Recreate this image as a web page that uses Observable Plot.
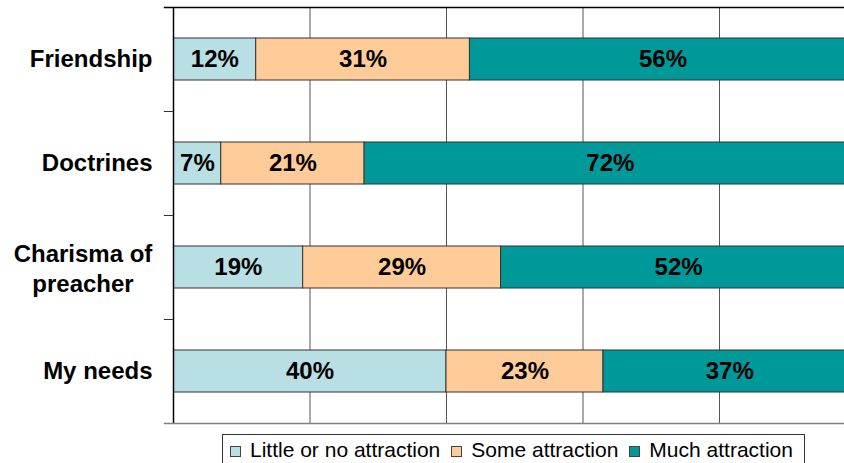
<!DOCTYPE html>
<html>
<head>
<meta charset="utf-8">
<script src="https://cdn.jsdelivr.net/npm/d3@7"></script>
<script src="https://cdn.jsdelivr.net/npm/@observablehq/plot@0.6"></script>
<style>
  html, body { margin: 0; padding: 0; background: #fff; overflow: hidden; width: 844px; height: 463px; }
  #chart svg { display: block; overflow: hidden; }
  #legend {
    position: absolute; left: 222px; top: 434px; height: 40px; width: 583px;
    border: 1px solid #333; box-sizing: border-box; white-space: nowrap;
    display: flex; flex-wrap: nowrap; align-items: flex-start; padding: 3px 0 0 7px;
    font-family: "Liberation Sans", Arial, sans-serif; font-size: 21px; color: #000;
  }
  .item { display: flex; flex-shrink: 0; align-items: center; margin-right: 11px; line-height: 24px; white-space: nowrap; }
  .sw { flex-shrink: 0; width: 9px; height: 9px; border: 1px solid #444; margin-right: 9px; margin-top: 2px; }
</style>
</head>
<body>
<div id="chart"></div>
<div id="legend"></div>
<script>
const categories = ["Friendship", "Doctrines", "Charisma of preacher", "My needs"];
const series = ["Little or no attraction", "Some attraction", "Much attraction"];
const little = [12, 7, 19, 40];
const some = [31, 21, 29, 23];
const much = [56, 72, 52, 37];
const colors = ["#B8DFE3", "#FFCC99", "#009999"];
const gridTicks = [0.2, 0.4, 0.6, 0.8];
const multiLine = {"Charisma of preacher": "Charisma of\npreacher"};

const seriesValues = [little, some, much];
const rows = categories.flatMap((c, i) =>
  series.map((s, j) => ({cat: c, series: s, value: seriesValues[j][i]}))
);

const font = "'Liberation Sans', Arial, sans-serif";
const singles = categories.filter(c => !multiLine[c]);
const multis = categories.filter(c => multiLine[c]);

const chart = Plot.plot({
  width: 844,
  height: 430,
  marginTop: 7,
  marginBottom: 7,
  marginLeft: 173,
  marginRight: 0,
  style: {fontFamily: font, background: "#fff", overflow: "hidden"},
  x: {domain: [0, 1], range: [173, 855.5], axis: null},
  y: {domain: categories, paddingInner: 0.6, paddingOuter: 0.3, axis: null},
  color: {domain: series, range: colors},
  marks: [
    Plot.ruleX(gridTicks, {stroke: "#555", strokeWidth: 1}),
    Plot.barX(rows, Plot.stackX({
      x: "value", y: "cat", fill: "series", offset: "normalize", order: series,
      stroke: "#333", strokeWidth: 1, clip: true
    })),
    Plot.text(rows, Plot.stackX({
      x: "value", y: "cat", z: "series", offset: "normalize", order: series,
      text: d => d.value + "%", fontSize: 24, fontWeight: "bold", fill: "#000"
    })),
    Plot.ruleX([0], {stroke: "#000", strokeWidth: 1.5}),
    Plot.ruleY([categories[0]], {y: d => d, x1: -0.0135, x2: 1, dy: -52, stroke: "#000", strokeWidth: 1.5}),
    Plot.ruleY(categories.slice(1), {y: d => d, x1: -0.0135, x2: 0, dy: -52, stroke: "#333", strokeWidth: 1}),
    Plot.ruleY([categories[categories.length - 1]], {y: d => d, x1: -0.0135, x2: 1, dy: 52, stroke: "#808080", strokeWidth: 1.5}),
    Plot.axisY({ticks: singles, tickSize: 0, tickPadding: 21, fontSize: 24, fontWeight: "bold", textAnchor: "end", label: null, fill: "#000"}),
    Plot.axisY({ticks: multis, tickSize: 0, tickPadding: 21, dx: -69.5, fontSize: 24, fontWeight: "bold", textAnchor: "middle", lineHeight: 1.25, label: null, fill: "#000", tickFormat: d => multiLine[d] || d})
  ]
});
document.getElementById("chart").appendChild(chart);

const legend = document.getElementById("legend");
series.forEach((s, i) => {
  const item = document.createElement("div");
  item.className = "item";
  const sw = document.createElement("span");
  sw.className = "sw";
  sw.style.background = colors[i];
  const t = document.createElement("span");
  t.textContent = s;
  item.appendChild(sw);
  item.appendChild(t);
  legend.appendChild(item);
});
</script>
</body>
</html>
